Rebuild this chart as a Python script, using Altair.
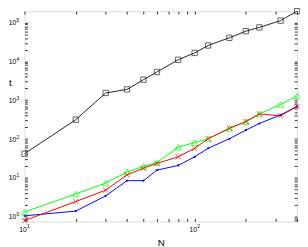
import altair as alt
import pandas as pd

# ---- data ----
N = [10, 20, 30, 40, 50, 60, 80, 100, 120, 160, 200, 240, 320, 400]
t_black = [42, 316, 1540, 1900, 3390, 5340, 11000, 16500, 25700, 40500, 60000, 75000, 112000, 196000]
t_green = [1.33, 3.87, 7.4, 14.2, 19.9, 25, 61.6, 81.6, 102, 189, 282, 443, 780, 1290]
t_red = [0.8, 2.47, 4.86, 12, 17.8, 23.6, 35, 58, 102, 189, 282, 443, 398, 695]
t_blue = [1.06, 1.4, 3.46, 8.5, 8.5, 15.9, 21, 35, 58, 102, 170, 252, 418, 695]

series_names = ["s_black", "s_blue", "s_green", "s_red"]
series_colors = ["#222222", "#0000ff", "#00ff00", "#ff0000"]

x_domain = [10, 400]
y_domain = [0.76, 196000]

x_ticks = [m * 10 ** k for k in (1, 2) for m in range(1, 10) if m * 10 ** k <= 400]
y_ticks = [m * 10.0 ** k for k in range(-1, 6) for m in range(1, 10)
           if y_domain[0] <= m * 10.0 ** k <= y_domain[1]]

frames = {}
for name, vals in zip(series_names, [t_black, t_blue, t_green, t_red]):
    frames[name] = pd.DataFrame({"N": N, "t": vals, "series": name})
df = pd.concat(frames.values(), ignore_index=True)

is_pow = "(abs(log(datum.value)/LN10 - round(log(datum.value)/LN10)) < 0.001)"
lab_base = is_pow + " ? '10' : ''"
lab_exp = is_pow + " ? format(round(log(datum.value)/LN10), 'd') : ''"

FONT = "Liberation Sans"
AX = "#333333"

tick_axis = dict(
    domain=False, grid=False, tickSize=3, tickColor=AX, tickWidth=1, offset=-3,
    labelFont=FONT, labelColor="#000", labelFlush=False, labelOverlap=False,
    titleFont=FONT, titleFontSize=10, titleFontWeight="normal", titleColor="#000",
)
exp_axis = dict(
    domain=False, grid=False, ticks=False, offset=0,
    labelFont=FONT, labelColor="#000", labelFlush=False, labelOverlap=False,
    labelFontSize=5, title=None,
)

xs = alt.Scale(type="log", domain=x_domain, nice=False)
ys = alt.Scale(type="log", domain=y_domain, nice=False)

color = alt.Color("series:N", scale=alt.Scale(domain=series_names, range=series_colors), legend=None)

# lines + main axes (ticks, "10" labels, titles)
lines = alt.Chart(df).mark_line(strokeWidth=1, clip=False).encode(
    x=alt.X("N:Q", scale=xs,
            axis=alt.Axis(orient="bottom", values=x_ticks, labelExpr=lab_base, title="N",
                          labelFontSize=7, labelPadding=4, labelOffset=-2, titlePadding=6,
                          **tick_axis)),
    y=alt.Y("t:Q", scale=ys,
            axis=alt.Axis(orient="left", values=y_ticks, labelExpr=lab_base, title="t",
                          titleAngle=0, titleX=-18, titleY=73, titleBaseline="middle",
                          titleAlign="center", labelFontSize=7, labelPadding=9,
                          **tick_axis)),
    color=color,
    detail="series:N",
)

# exponent labels (superscripts)
exps = alt.Chart(frames["s_black"]).mark_point(opacity=0).encode(
    x=alt.X("N:Q", scale=xs,
            axis=alt.Axis(orient="bottom", values=x_ticks, labelExpr=lab_exp,
                          labelPadding=2, labelOffset=3.5, **exp_axis)),
    y=alt.Y("t:Q", scale=ys,
            axis=alt.Axis(orient="left", values=y_ticks, labelExpr=lab_exp,
                          labelPadding=6, labelOffset=-3, **exp_axis)),
)

# black squares + top/right tick axes
black_pts = alt.Chart(frames["s_black"]).mark_point(
    shape="square", filled=False, size=30, strokeWidth=1, color="#222222", clip=False
).encode(
    x=alt.X("N:Q", scale=xs,
            axis=alt.Axis(orient="top", values=x_ticks, labels=False, title=None, **tick_axis)),
    y=alt.Y("t:Q", scale=ys,
            axis=alt.Axis(orient="right", values=y_ticks, labels=False, title=None, **tick_axis)),
)

blue_pts = alt.Chart(frames["s_blue"]).mark_circle(size=5, color="#0000ff", opacity=1, clip=False).encode(
    x=alt.X("N:Q", scale=xs, axis=None), y=alt.Y("t:Q", scale=ys, axis=None))
green_pts = alt.Chart(frames["s_green"]).mark_point(
    shape="triangle-up", filled=False, size=45, strokeWidth=1, color="#00ff00", clip=False
).encode(x=alt.X("N:Q", scale=xs, axis=None), y=alt.Y("t:Q", scale=ys, axis=None))
red_pts = alt.Chart(frames["s_red"]).mark_point(
    shape="M-1,-1L1,1M-1,1L1,-1", filled=False, size=30, strokeWidth=1, color="#ff0000", clip=False
).encode(x=alt.X("N:Q", scale=xs, axis=None), y=alt.Y("t:Q", scale=ys, axis=None))

chart = alt.layer(lines, exps, black_pts, blue_pts, green_pts, red_pts).resolve_axis(
    x="independent", y="independent"
).properties(
    width=280, height=216,
    autosize=alt.AutoSizeParams(type="none"),
    padding={"left": 17, "top": 0, "right": 3, "bottom": 23},
).configure_view(stroke=AX, strokeWidth=1).configure(background="white")

chart.save("out.html", embed_options={"renderer": "svg", "actions": False})
